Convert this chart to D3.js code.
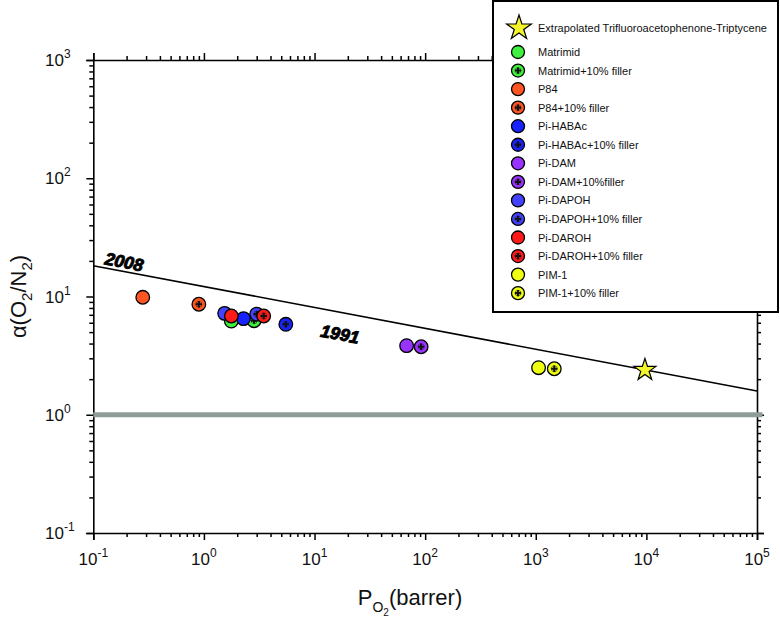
<!DOCTYPE html>
<html><head><meta charset="utf-8">
<script src="https://cdn.jsdelivr.net/npm/d3@7"></script>
<style>
body{margin:0;background:#fff;}
text{font-family:"Liberation Sans",Arial,sans-serif;}
</style></head>
<body><svg id="chart" width="780" height="618"></svg>
<script>
// ---------- data ----------
const seriesNames = ["Matrimid","Matrimid+10% filler","P84","P84+10% filler","Pi-HABAc","Pi-HABAc+10% filler",
  "Pi-DAM","Pi-DAM+10%filler","Pi-DAPOH","Pi-DAPOH+10% filler","Pi-DAROH","Pi-DAROH+10% filler","PIM-1","PIM-1+10% filler"];
const seriesColors = ["#3ff03f","#3ff03f","#ff5522","#ff5522","#1822ff","#1822ff",
  "#9933ff","#9933ff","#4343ff","#4343ff","#ff1a1a","#ff1a1a","#eeff11","#eeff11"];
const seriesFiller = [false,true,false,true,false,true,false,true,false,true,false,true,false,true];
const permeabilityO2 = [1.77, 2.84, 0.28, 0.90, 2.28, 5.5, 68, 92, 1.54, 3.0, 1.77, 3.47, 1060, 1470];
const selectivityO2N2 = [6.2, 6.24, 9.85, 8.6, 6.5, 5.82, 3.84, 3.76, 7.2, 7.1, 6.84, 6.84, 2.5, 2.45];
const starName = "Extrapolated Trifluoroacetophenone-Triptycene";
const starPoint = [9700, 2.39];
const upperBoundP = [0.1, 1e5];
const upperBoundA = [18.2, 1.59];
const unityP = [0.1, 1.12e5];
const unityA = [1, 1];
const boundLabels = [{text:"2008", p:0.19, a:19.6},{text:"1991", p:17, a:4.8}];
const xExponents = [-1,0,1,2,3,4,5];
const yExponents = [-1,0,1,2,3];

// ---------- layout ----------
const svg = d3.select("#chart");
const L = 93.3, R = 757, T = 60, B = 533;
const x = d3.scaleLog().domain([0.1, 1e5]).range([L, R]);
const y = d3.scaleLog().domain([0.1, 1000]).range([B, T]);

function minorTicks(exps){
  const out=[];
  for(let i=0;i<exps.length-1;i++) for(let k=2;k<=9;k++) out.push(k*Math.pow(10,exps[i]));
  return out;
}
const xMajor = xExponents.map(e=>Math.pow(10,e));
const yMajor = yExponents.map(e=>Math.pow(10,e));
const xMinor = minorTicks(xExponents), yMinor = minorTicks(yExponents);

function drawAxis(axisFn, scale, transform, major, minor){
  const gMaj = svg.append("g").attr("transform",transform)
    .call(axisFn(scale).tickValues(major).tickSize(7).tickFormat(""));
  const gMin = svg.append("g").attr("transform",transform)
    .call(axisFn(scale).tickValues(minor).tickSize(4).tickFormat(""));
  [gMaj,gMin].forEach(g=>{
    g.selectAll("path").attr("stroke","#000").attr("stroke-width",1.6);
    g.selectAll("line").attr("stroke","#000").attr("stroke-width",1.5);
  });
  gMin.select("path").remove();
}
drawAxis(d3.axisBottom, x, `translate(0,${B})`, xMajor, xMinor);
drawAxis(d3.axisTop, x, `translate(0,${T})`, xMajor, xMinor);
drawAxis(d3.axisLeft, y, `translate(${L},0)`, yMajor, yMinor);
drawAxis(d3.axisRight, y, `translate(${R},0)`, yMajor, yMinor);

// tick labels
xExponents.forEach(e=>{
  const t = svg.append("text").attr("x", x(Math.pow(10,e))).attr("y", B+32)
    .attr("text-anchor","middle").attr("font-size",17).attr("fill","#111");
  t.append("tspan").text("10");
  t.append("tspan").attr("dy",-8).attr("font-size",12).text(String(e));
});
yExponents.forEach(e=>{
  const t = svg.append("text").attr("x", 45).attr("y", y(Math.pow(10,e))+6)
    .attr("text-anchor","start").attr("font-size",17).attr("fill","#111");
  t.append("tspan").text("10");
  t.append("tspan").attr("dy",-8).attr("font-size",12).text(String(e));
});

// axis titles
const xt = svg.append("text").attr("x",410).attr("y",605).attr("text-anchor","middle")
  .attr("font-size",22).attr("fill","#111");
xt.append("tspan").text("P");
xt.append("tspan").attr("dy",7).attr("font-size",14).text("O");
xt.append("tspan").attr("dy",4).attr("font-size",10).text("2");
xt.append("tspan").attr("dy",-11).text("(barrer)");

const yt = svg.append("text").attr("transform",`translate(26,${(T+B)/2}) rotate(-90)`)
  .attr("text-anchor","middle").attr("font-size",22).attr("fill","#111");
yt.append("tspan").text("α(O");
yt.append("tspan").attr("dy",6).attr("font-size",15).text("2");
yt.append("tspan").attr("dy",-6).text("/N");
yt.append("tspan").attr("dy",6).attr("font-size",15).text("2");
yt.append("tspan").attr("dy",-6).text(")");

// unity line
svg.append("line").attr("x1",x(unityP[0])).attr("x2",x(unityP[1]))
  .attr("y1",y(unityA[0])).attr("y2",y(unityA[1]))
  .attr("stroke","#8e9e97").attr("stroke-width",5);

// upper bound
svg.append("line").attr("x1",x(upperBoundP[0])).attr("x2",x(upperBoundP[1]))
  .attr("y1",y(upperBoundA[0])).attr("y2",y(upperBoundA[1]))
  .attr("stroke","#000").attr("stroke-width",1.6);
const ang = Math.atan2(y(upperBoundA[1])-y(upperBoundA[0]), x(upperBoundP[1])-x(upperBoundP[0]))*180/Math.PI;
boundLabels.forEach(b=>{
  svg.append("text").attr("transform",`translate(${x(b.p)},${y(b.a)}) rotate(${ang})`)
    .attr("text-anchor","middle").attr("dominant-baseline","central")
    .attr("font-size",17.5).attr("font-weight","bold").attr("font-style","italic")
    .attr("stroke","#000").attr("stroke-width",0.9)
    .attr("fill","#000").text(b.text);
});

// markers
function drawMarker(g, cx, cy, color, filler, r){
  g.append("circle").attr("cx",cx).attr("cy",cy).attr("r",r)
    .attr("fill",color).attr("stroke","#000").attr("stroke-width",1.3);
  if(filler){
    g.append("circle").attr("cx",cx).attr("cy",cy).attr("r",r*0.45)
      .attr("fill","none").attr("stroke","#222").attr("stroke-width",0.8).attr("opacity",0.6);
    g.append("path").attr("d", d3.symbol(d3.symbolCross, 22)())
      .attr("transform",`translate(${cx},${cy})`).attr("fill","#111");
  }
}
const gPts = svg.append("g");
seriesNames.forEach((n,i)=>{
  drawMarker(gPts, x(permeabilityO2[i]), y(selectivityO2N2[i]), seriesColors[i], seriesFiller[i], 6.8);
});
const starPath = d3.symbol(d3.symbolStar, 150)();
svg.append("path").attr("d",starPath)
  .attr("transform",`translate(${x(starPoint[0])},${y(starPoint[1])})`)
  .attr("fill","#f2f52c").attr("stroke","#000").attr("stroke-width",1.2);

// legend
const lg = svg.append("g");
lg.append("rect").attr("x",493).attr("y",1).attr("width",285).attr("height",311)
  .attr("fill","#fff").attr("stroke","#000").attr("stroke-width",2);
lg.append("path").attr("d", d3.symbol(d3.symbolStar, 190)())
  .attr("transform","translate(519,28)")
  .attr("fill","#f2f52c").attr("stroke","#000").attr("stroke-width",1.2);
lg.append("text").attr("x",538).attr("y",31.5).attr("font-size",11).attr("fill","#111").text(starName);
seriesNames.forEach((n,i)=>{
  const cy = 52 + i*18.55;
  drawMarker(lg, 518, cy, seriesColors[i], seriesFiller[i], 6.5);
  lg.append("text").attr("x",538).attr("y",cy+4).attr("font-size",11).attr("fill","#111").text(n);
});
</script></body></html>
